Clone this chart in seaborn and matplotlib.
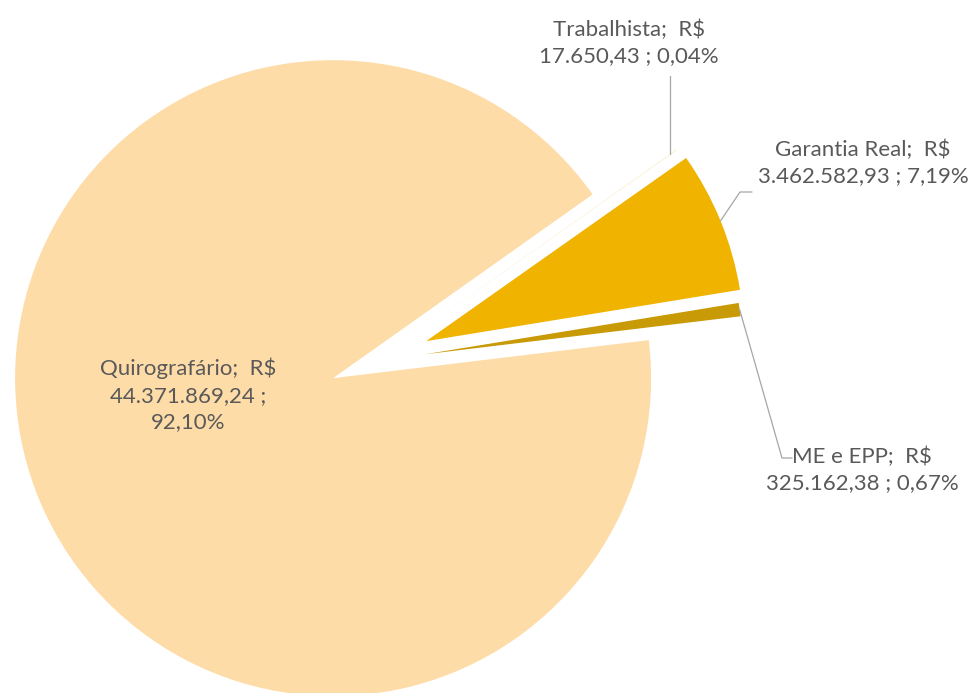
import numpy as np
import matplotlib
matplotlib.use("Agg")
import matplotlib.pyplot as plt
import seaborn as sns

# data (valores em R$)
categorias = ["Trabalhista", "Garantia Real", "ME e EPP", "Quirografário"]
valores = [17650.43, 3462582.93, 325162.38, 44371869.24]
valores_txt = ["17.650,43", "3.462.582,93", "325.162,38", "44.371.869,24"]
percent_txt = ["0,04%", "7,19%", "0,67%", "92,10%"]

cores = ["#FBEBC4", "#EFB300", "#C89A05", "#FEDCA8"]
explode = [0.15, 0.165, 0.15, 0.15]

sns.set_theme(style="white")
plt.rcParams["font.family"] = ["Lato", "DejaVu Sans"]

W, H = 971, 693
fig = plt.figure(figsize=(W / 100, H / 100), dpi=100)
ax = fig.add_axes([0, 0, 1, 1])

wedges, _ = ax.pie(valores, explode=explode, colors=cores, startangle=35.3,
                   counterclock=False, radius=1.0,
                   wedgeprops=dict(linewidth=0))

# pixel -> data (318 px por unidade de raio)
S, CX, CY = 318.0, 377.6, 361.0
def px(x, y):
    return ((x - CX) / S, (CY - y) / S)

ax.set_xlim((0 - CX) / S, (W - CX) / S)
ax.set_ylim((CY - H) / S, CY / S)
ax.set_aspect("equal")
ax.axis("off")

def arc_mid(w):
    ang = np.deg2rad((w.theta1 + w.theta2) / 2)
    cx, cy = w.center
    return cx + w.r * np.cos(ang), cy + w.r * np.sin(ang)

txt_kw = dict(ha="center", va="center", fontsize=16, color="#595959",
              linespacing=1.4)
linha_kw = dict(color="#A6A6A6", lw=0.9)

# Trabalhista
ax.text(*px(629, 43), f"{categorias[0]};  R$\n{valores_txt[0]} ; {percent_txt[0]}", **txt_kw)
a = arc_mid(wedges[0])
ax.plot([a[0] - 6 / S, a[0] - 6 / S], [a[1] - 4 / S, px(0, 76)[1]], **linha_kw)

# Garantia Real
ax.text(*px(863, 163), f"{categorias[1]};  R$\n{valores_txt[1]} ; {percent_txt[1]}", **txt_kw)
a = arc_mid(wedges[1])
p1, p2 = px(740, 192), px(752, 192)
ax.plot([a[0], p1[0], p2[0]], [a[1], p1[1], p2[1]], **linha_kw)

# ME e EPP
ax.text(*px(862, 470), f"{categorias[2]};  R$\n{valores_txt[2]} ; {percent_txt[2]}", **txt_kw)
a = arc_mid(wedges[2])
p1, p2 = px(782, 458), px(792, 458)
ax.plot([a[0], p1[0], p2[0]], [a[1], p1[1], p2[1]], **linha_kw)

# Quirografário
ax.text(*px(188, 395), f"{categorias[3]};  R$\n{valores_txt[3]} ;\n{percent_txt[3]}", **txt_kw)

fig.savefig("out.png", dpi=100, facecolor="white")
